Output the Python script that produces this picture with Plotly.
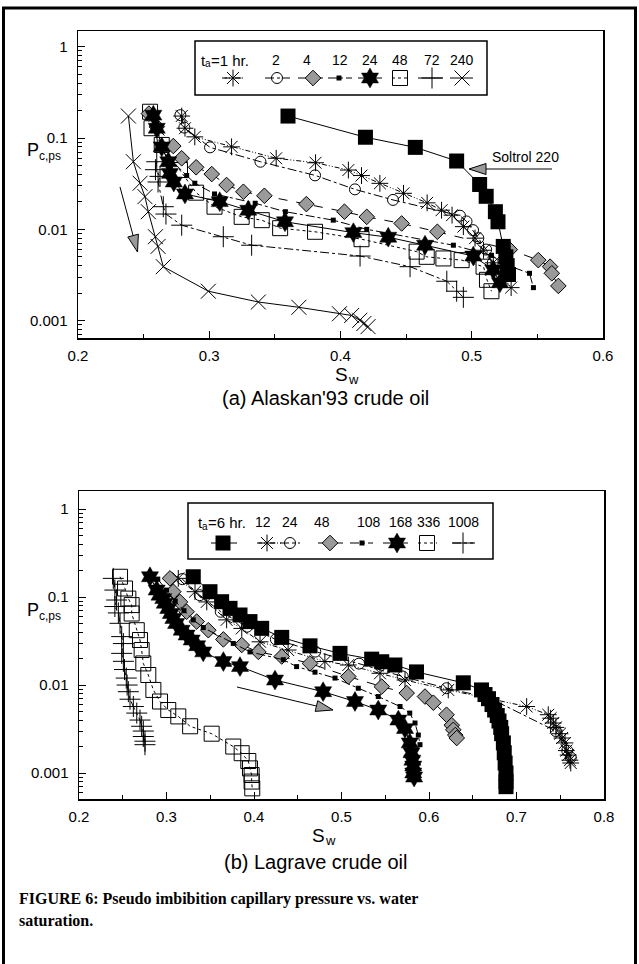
import plotly.graph_objects as go

# ---------------- DATA ----------------
# (a) Alaskan'93 crude oil
soltrol_sw = [0.360, 0.419, 0.457, 0.4885, 0.506, 0.511, 0.518, 0.520, 0.524, 0.526, 0.527, 0.528]
soltrol_pc = [0.174, 0.102, 0.079, 0.056, 0.031, 0.023, 0.0156, 0.0121, 0.0065, 0.005, 0.004, 0.0032]

a1_sw = [0.279, 0.2815, 0.289, 0.317, 0.351, 0.381, 0.406, 0.416, 0.430, 0.448, 0.466, 0.477, 0.485, 0.4936, 0.5025, 0.509, 0.5164, 0.530]
a1_pc = [0.174, 0.128, 0.103, 0.080, 0.060, 0.0536, 0.0446, 0.0388, 0.0319, 0.0248, 0.0195, 0.0162, 0.0143, 0.0107, 0.0080, 0.0059, 0.0043, 0.0023]

a2_sw = [0.278, 0.281, 0.3006, 0.339, 0.3806, 0.411, 0.440, 0.491, 0.496, 0.501, 0.505, 0.511, 0.516]
a2_pc = [0.178, 0.13, 0.079, 0.055, 0.039, 0.0274, 0.021, 0.0141, 0.0122, 0.0098, 0.0080, 0.006, 0.0043]

a4_sw = [0.254, 0.26, 0.2726, 0.279, 0.290, 0.3019, 0.3132, 0.326, 0.342, 0.374, 0.403, 0.420, 0.4466, 0.4738, 0.529, 0.5507, 0.5597, 0.561, 0.566]
a4_pc = [0.185, 0.133, 0.0817, 0.060, 0.0478, 0.0403, 0.0306, 0.0258, 0.0233, 0.0189, 0.0156, 0.0137, 0.0116, 0.0094, 0.0060, 0.0046, 0.0039, 0.0033, 0.0024]

a12_sw = [0.258, 0.261, 0.2828, 0.289, 0.304, 0.335, 0.358, 0.3945, 0.42, 0.486, 0.515, 0.528, 0.544, 0.547]
a12_pc = [0.17, 0.080, 0.0388, 0.032, 0.0244, 0.0193, 0.0156, 0.0126, 0.010, 0.0067, 0.0052, 0.0040, 0.0033, 0.0023]

a24_sw = [0.2574, 0.26, 0.2638, 0.2688, 0.27, 0.273, 0.2815, 0.308, 0.3297, 0.3577, 0.4098, 0.4364, 0.4644, 0.5012, 0.5164, 0.5215]
a24_pc = [0.178, 0.128, 0.080, 0.055, 0.041, 0.033, 0.0244, 0.0201, 0.0162, 0.0121, 0.0092, 0.0082, 0.0067, 0.0051, 0.0036, 0.0026]

a48_sw = [0.2549, 0.256, 0.2638, 0.2777, 0.290, 0.304, 0.3247, 0.34, 0.354, 0.3806, 0.416, 0.458, 0.4657, 0.4784, 0.4923, 0.509, 0.5116, 0.515]
a48_pc = [0.194, 0.128, 0.084, 0.0446, 0.0252, 0.0177, 0.0137, 0.0126, 0.0103, 0.0094, 0.0078, 0.0057, 0.005, 0.0048, 0.0046, 0.0039, 0.0028, 0.0021]

a72_sw = [0.26, 0.259, 0.2625, 0.261, 0.265, 0.267, 0.279, 0.3107, 0.3323, 0.4149, 0.453, 0.481, 0.4885, 0.4936]
a72_pc = [0.055, 0.045, 0.038, 0.033, 0.0177, 0.0147, 0.0111, 0.0083, 0.0067, 0.0051, 0.0039, 0.0027, 0.0021, 0.0018]

a240_sw = [0.2384, 0.2422, 0.2473, 0.251, 0.2536, 0.259, 0.261, 0.265, 0.2993, 0.3374, 0.3683, 0.3992, 0.4085, 0.4147, 0.4178, 0.421]
a240_pc = [0.174, 0.055, 0.032, 0.0228, 0.0156, 0.0083, 0.0065, 0.0039, 0.0021, 0.0016, 0.0014, 0.00119, 0.00114, 0.00101, 0.00093, 0.00086]

# (b) Lagrave crude oil
l6_sw = [0.3306, 0.3497, 0.363, 0.3726, 0.384, 0.3954, 0.4088, 0.4317, 0.464, 0.4983, 0.5345, 0.546, 0.561, 0.5857,
         0.6392, 0.66, 0.664, 0.668, 0.672, 0.675, 0.678, 0.680, 0.682, 0.683, 0.685, 0.686, 0.687, 0.688, 0.688, 0.688]
l6_pc = [0.170, 0.115, 0.0885, 0.0744, 0.0625, 0.0526, 0.0441, 0.0348, 0.0279, 0.0229, 0.0197, 0.0184, 0.0169, 0.0141,
         0.0106, 0.0088, 0.0078, 0.0070, 0.0060, 0.0052, 0.0045, 0.0039, 0.0033, 0.0028, 0.0022, 0.0017, 0.0013, 0.0010, 0.0008, 0.0007]

l12_sw = [0.3135, 0.3326, 0.346, 0.3687, 0.386, 0.4069, 0.439, 0.481, 0.5078, 0.544, 0.5726, 0.622, 0.7116, 0.7363,
          0.739, 0.742, 0.745, 0.7497, 0.752, 0.7554, 0.757, 0.759, 0.7611, 0.762]
l12_pc = [0.163, 0.115, 0.088, 0.055, 0.044, 0.031, 0.025, 0.0185, 0.0169, 0.0136, 0.0114, 0.0088, 0.0057, 0.0046,
          0.0042, 0.0037, 0.0033, 0.0028, 0.0025, 0.0022, 0.0018, 0.0016, 0.0014, 0.0013]

l24_sw = [0.318, 0.338, 0.362, 0.392, 0.425, 0.47, 0.52, 0.57, 0.62, 0.668, 0.745, 0.758, 0.762]
l24_pc = [0.16, 0.105, 0.068, 0.046, 0.033, 0.024, 0.0175, 0.0125, 0.0092, 0.0072, 0.003, 0.0018, 0.0015]

l48_sw = [0.304, 0.3078, 0.3154, 0.323, 0.3345, 0.3478, 0.365, 0.386, 0.405, 0.4317, 0.464, 0.5078, 0.546, 0.5745,
          0.5954, 0.605, 0.62, 0.626, 0.6278, 0.63, 0.6317]
l48_pc = [0.163, 0.115, 0.088, 0.068, 0.0526, 0.042, 0.033, 0.0285, 0.0238, 0.0211, 0.0176, 0.0125, 0.0096, 0.0081,
          0.0074, 0.0063, 0.0046, 0.0035, 0.0031, 0.0027, 0.0025]

l108_sw = [0.29, 0.30, 0.31, 0.32, 0.3306, 0.342, 0.3763, 0.3954, 0.4335, 0.4487, 0.4697, 0.4926, 0.5192, 0.542,
           0.5669, 0.578, 0.584, 0.5878, 0.5897]
l108_pc = [0.16, 0.12, 0.09, 0.07, 0.055, 0.045, 0.0297, 0.0238, 0.0194, 0.0162, 0.0140, 0.0120, 0.0092, 0.0074,
           0.0057, 0.0048, 0.0037, 0.0027, 0.0021]

l168_sw = [0.2811, 0.2888, 0.292, 0.2963, 0.298, 0.302, 0.305, 0.3078, 0.311, 0.3174, 0.323, 0.3288, 0.335, 0.342,
           0.365, 0.384, 0.424, 0.479, 0.5154, 0.542, 0.565, 0.5726, 0.578, 0.58, 0.581, 0.582, 0.582, 0.583]
l168_pc = [0.170, 0.12, 0.105, 0.096, 0.085, 0.074, 0.065, 0.057, 0.05, 0.042, 0.037, 0.0325, 0.028, 0.0238,
           0.0185, 0.0162, 0.0114, 0.0084, 0.0065, 0.0052, 0.0040, 0.0032, 0.0022, 0.0017, 0.0014, 0.0012, 0.0010, 0.0009]

l336_sw = [0.2469, 0.2526, 0.2564, 0.2602, 0.2602, 0.266, 0.2697, 0.2716, 0.2735, 0.2792, 0.285, 0.2926, 0.302,
           0.3135, 0.327, 0.3516, 0.3763, 0.3859, 0.3935, 0.3954, 0.3973, 0.3973, 0.398]
l336_pc = [0.170, 0.125, 0.096, 0.081, 0.065, 0.042, 0.0325, 0.025, 0.0176, 0.0130, 0.0088, 0.0065, 0.0052,
           0.0044, 0.0034, 0.0028, 0.0020, 0.00168, 0.00137, 0.00113, 0.00095, 0.0008, 0.00067]

l1008_sw = [0.2392, 0.241, 0.243, 0.241, 0.245, 0.2469, 0.2488, 0.2507, 0.2488, 0.2507, 0.252, 0.254, 0.255,
            0.2564, 0.2583, 0.2621, 0.266, 0.2697, 0.2716, 0.2735, 0.2735, 0.2754, 0.2754]
l1008_pc = [0.163, 0.12, 0.0925, 0.078, 0.066, 0.0503, 0.0355, 0.0296, 0.0229, 0.0186, 0.015, 0.012, 0.010,
            0.0084, 0.0069, 0.0057, 0.0048, 0.0040, 0.0034, 0.0030, 0.0026, 0.0023, 0.0021]

legend_a_hours = ["1", "2", "4", "12", "24", "48", "72", "240"]
legend_b_hours = ["6", "12", "24", "48", "108", "168", "336", "1008"]
x_ticks_a = [0.2, 0.3, 0.4, 0.5, 0.6]
x_ticks_b = [0.2, 0.3, 0.4, 0.5, 0.6, 0.7, 0.8]
y_ticks = [0.001, 0.01, 0.1, 1]
y_ticktext = ["0.001", "0.01", "0.1", "1"]

# ---------------- STYLE / LAYOUT ----------------
W, H = 639, 964
SANS = "Liberation Sans, Arial, Helvetica, sans-serif"
SERIF = "Liberation Serif, Times New Roman, serif"
GRAY = "#9a9a9a"
DDD = "5px,2px,1px,2px,1px,2px"   # dash-dot-dot


def px(x):
    return x / W


def py(y):
    return 1 - y / H


STY = {
    "ast":  dict(symbol="asterisk-open", size=14, color="black", line=dict(color="black", width=1)),
    "circ": dict(symbol="circle-open", size=11, color="black", line=dict(color="black", width=1)),
    "dia":  dict(symbol="diamond", size=12, color=GRAY, line=dict(color="black", width=1)),
    "sq":   dict(symbol="square", size=5, color="black", line=dict(color="black", width=0)),
    "hex":  dict(symbol="hexagram", size=15, color="black", line=dict(color="black", width=0.5)),
    "osq":  dict(symbol="square-open", size=15, color="black", line=dict(color="black", width=1)),
    "plus": dict(symbol="cross-thin-open", size=15, color="black", line=dict(color="black", width=1)),
    "x":    dict(symbol="x-thin-open", size=15, color="black", line=dict(color="black", width=1)),
    "big":  dict(symbol="square", size=15, color="black", line=dict(color="black", width=0)),
}

fig = go.Figure()


def add(xs, ys, sty, dash, xa, ya, name):
    fig.add_trace(go.Scatter(
        x=xs, y=ys, mode="lines+markers", name=name, showlegend=False,
        line=dict(color="black", width=1, dash=dash),
        marker=STY[sty], xaxis=xa, yaxis=ya))


series_a = [
    (a240_sw, a240_pc, "x", "solid", "240"),
    (a72_sw, a72_pc, "plus", "dashdot", "72"),
    (a48_sw, a48_pc, "osq", "dot", "48"),
    (a12_sw, a12_pc, "sq", "dashdot", "12"),
    (a4_sw, a4_pc, "dia", "dash", "4"),
    (a2_sw, a2_pc, "circ", "dashdot", "2"),
    (a1_sw, a1_pc, "ast", DDD, "1"),
    (a24_sw, a24_pc, "hex", "solid", "24"),
    (soltrol_sw, soltrol_pc, "big", "solid", "Soltrol 220"),
]
for xs, ys, s, d, n in series_a:
    add(xs, ys, s, d, "x", "y", n)

series_b = [
    (l1008_sw, l1008_pc, "plus", "dashdot", "1008"),
    (l336_sw, l336_pc, "osq", "dot", "336"),
    (l24_sw, l24_pc, "circ", "dashdot", "24"),
    (l12_sw, l12_pc, "ast", DDD, "12"),
    (l48_sw, l48_pc, "dia", "dash", "48"),
    (l108_sw, l108_pc, "sq", "dashdot", "108"),
    (l168_sw, l168_pc, "hex", "solid", "168"),
    (l6_sw, l6_pc, "big", "solid", "6"),
]
for xs, ys, s, d, n in series_b:
    add(xs, ys, s, d, "x2", "y2", n)

shapes = []
annotations = []


def txt(x, y, t, size, family=SANS, xanchor="center"):
    annotations.append(dict(x=px(x), y=py(y), xref="paper", yref="paper", showarrow=False, text=t,
                            font=dict(family=family, size=size, color="black"),
                            xanchor=xanchor, yanchor="middle"))


# ---------------- custom legends (text above symbol) ----------------
leg_a = dict(box=(195, 41, 487, 95), ty=60, sy=78, t0=199,
             tx=[None, 276, 307, 340, 370, 400, 432, 462],
             sx=[233, 277, 313, 339, 370, 400, 432, 462],
             seg=[(222, 245), (265, 290), (298, 323), (328, 352), (358, 382), (392, 408), (418, 443), (450, 473)],
             sty=["ast", "circ", "dia", "sq", "hex", "osq", "plus", "x"],
             dash=[DDD, "dashdot", "dash", "dashdot", "solid", "dot", "solid", "solid"],
             hours=legend_a_hours)
leg_b = dict(box=(188, 503, 493, 559), ty=522, sy=543, t0=196,
             tx=[None, 263, 290, 322, 369, 401, 429, 463],
             sx=[223, 267, 290, 330, 362, 397, 427, 463],
             seg=[(211, 237), (257, 283), (280, 300), (318, 343), (350, 373), (383, 408), (418, 437), (452, 475)],
             sty=["big", "ast", "circ", "dia", "sq", "hex", "osq", "plus"],
             dash=["solid", DDD, "dashdot", "dash", "dashdot", "solid", "dot", "dashdot"],
             hours=legend_b_hours)

for L in (leg_a, leg_b):
    x0, y0, x1, y1 = L["box"]
    shapes.append(dict(type="rect", xref="paper", yref="paper", x0=px(x0), y0=py(y0), x1=px(x1), y1=py(y1),
                       line=dict(color="black", width=1.5), layer="below"))
    # first label: t_a=N hr. (subscript drawn as its own small text)
    t0 = L["t0"]
    txt(t0, L["ty"], "t", 15, xanchor="left")
    txt(t0 + 4, L["ty"] + 4, "a", 10, xanchor="left")
    txt(t0 + 10, L["ty"], f"={L['hours'][0]} hr.", 15, xanchor="left")
    for i in range(8):
        a, b = L["seg"][i]
        shapes.append(dict(type="line", xref="paper", yref="paper", x0=px(a), x1=px(b), y0=py(L["sy"]), y1=py(L["sy"]),
                           line=dict(color="black", width=1, dash=L["dash"][i]), layer="below"))
        if i > 0:
            txt(L["tx"][i], L["ty"], L["hours"][i], 14)
        fig.add_trace(go.Scatter(x=[L["sx"][i]], y=[L["sy"]], mode="markers", showlegend=False,
                                 marker=STY[L["sty"][i]], xaxis="x3", yaxis="y3", hoverinfo="skip"))


# ---------------- arrows with grey triangular heads ----------------
def arrow(sx, sy, tx, ty, length=17, half=5.5):
    dx, dy = tx - sx, ty - sy
    n = (dx * dx + dy * dy) ** 0.5
    ux, uy = dx / n, dy / n
    bx, by = tx - ux * length, ty - uy * length
    vx, vy = -uy, ux
    shapes.append(dict(type="line", xref="paper", yref="paper", x0=px(sx), y0=py(sy), x1=px(bx), y1=py(by),
                       line=dict(color="black", width=1)))
    p = (f"M {px(tx)} {py(ty)} L {px(bx + vx * half)} {py(by + vy * half)} "
         f"L {px(bx - vx * half)} {py(by - vy * half)} Z")
    shapes.append(dict(type="path", xref="paper", yref="paper", path=p, fillcolor=GRAY,
                       line=dict(color="black", width=1)))


arrow(120, 187, 137.5, 252)
arrow(552, 169, 469, 169)
arrow(237, 687, 333, 710)

# figure frame: three sides drawn on the page-sized overlay axis (runs past the page bottom)
FRAME_X = [3.5, 3.5, 635.5, 635.5]
FRAME_Y = [964, 8, 8, 964]
fig.add_trace(go.Scatter(x=FRAME_X, y=FRAME_Y, mode="lines", showlegend=False, hoverinfo="skip",
                         line=dict(color="black", width=3), xaxis="x3", yaxis="y3", cliponaxis=False))

# ---------------- text ----------------
for yy in (150, 610):
    txt(25, yy, "P", 18, xanchor="left")
    txt(37, yy + 6, "c,ps", 12, xanchor="left")
for xx, yy in ((333, 375), (310, 835)):
    txt(xx, yy, "S", 19, xanchor="left")
    txt(xx + 13, yy + 5, "w", 13, xanchor="left")
txt(325, 398, "(a) Alaskan'93 crude oil", 20)
txt(315, 862, "(b) Lagrave crude oil", 20)
txt(525, 157, "Soltrol 220", 14)
txt(17, 899, "<b>FIGURE 6: Pseudo imbibition capillary pressure vs. water</b>", 16, SERIF, "left")
txt(17, 920, "<b>saturation.</b>", 16, SERIF, "left")

# ---------------- axes ----------------
common_x = dict(showline=True, linecolor="black", linewidth=1.5, mirror=True, showgrid=False, zeroline=False,
                automargin=False, ticks="inside", ticklen=7, tickwidth=1, tickcolor="black",
                ticklabelstandoff=3,
                tickfont=dict(family=SANS, size=15, color="black"),
                minor=dict(dtick=0.05, ticks="inside", ticklen=4, tickcolor="black", showgrid=False))
common_y = dict(type="log", showline=True, linecolor="black", linewidth=1.5, mirror=True, showgrid=False,
                automargin=False, zeroline=False, ticks="inside", ticklen=7, tickwidth=1, tickcolor="black",
                tickmode="array", tickvals=y_ticks, ticktext=y_ticktext, ticklabelstandoff=6,
                tickfont=dict(family=SANS, size=15, color="black"),
                minor=dict(ticks="inside", ticklen=4, tickcolor="black", dtick="D1", showgrid=False))

fig.update_layout(
    width=W, height=H, margin=dict(l=0, r=0, t=0, b=0, autoexpand=False),
    paper_bgcolor="white", plot_bgcolor="rgba(0,0,0,0)", showlegend=False, hovermode=False,
    xaxis=dict(domain=[78 / W, 603 / W], range=[0.2, 0.6], tickmode="array", tickvals=x_ticks_a,
               ticktext=[f"{v:.1f}" for v in x_ticks_a], anchor="y", **common_x),
    yaxis=dict(domain=[1 - 338 / H, 1 - 31 / H], range=[-3.19, 0.172], anchor="x", **common_y),
    xaxis2=dict(domain=[79 / W, 604 / W], range=[0.2, 0.8], tickmode="array", tickvals=x_ticks_b,
                ticktext=[f"{v:.1f}" for v in x_ticks_b], anchor="y2", **common_x),
    yaxis2=dict(domain=[1 - 799 / H, 1 - 491 / H], range=[-3.295, 0.205], anchor="x2", **common_y),
    xaxis3=dict(domain=[0, 1], range=[0, W], visible=False, anchor="y3", automargin=False),
    yaxis3=dict(domain=[0, 1], range=[H, 0], visible=False, anchor="x3", automargin=False),
    shapes=shapes, annotations=annotations,
)

fig.write_html("out.html", config={"displayModeBar": False, "staticPlot": True},
               post_script="document.body.style.margin='0';document.body.style.padding='0';")
